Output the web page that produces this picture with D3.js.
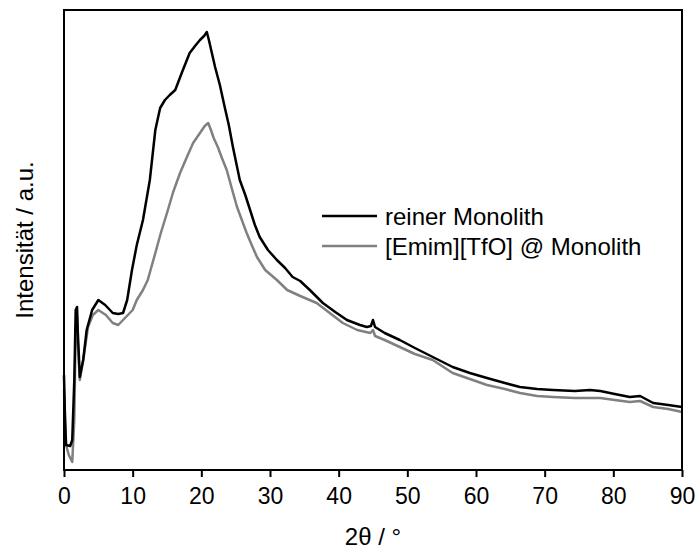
<!DOCTYPE html>
<html><head><meta charset="utf-8">
<script src="https://cdn.jsdelivr.net/npm/d3@7"></script>
<style>body{margin:0;background:#fff}svg{display:block}text{font-family:"Liberation Sans",Arial,sans-serif}</style>
</head><body><svg id="c" width="698" height="549"></svg>
<script>
const xTicks = [0,10,20,30,40,50,60,70,80,90];
const seriesNames = ["reiner Monolith","[Emim][TfO] @ Monolith"];
const seriesColors = ["#000000","#808080"];
const blackX = [0.0,0.15,0.3,0.9,1.2,1.5,1.7,1.9,2.0,2.3,2.8,3.3,4.1,5.0,6.0,7.1,7.9,8.6,9.2,9.9,10.6,11.5,12.5,13.3,14.0,14.7,15.4,16.2,17.2,18.3,19.2,19.8,20.4,20.8,21.1,21.6,22.0,22.7,23.4,24.0,24.6,25.6,26.4,27.1,27.8,28.5,29.7,31.0,32.2,33.3,34.4,35.8,37.7,39.5,41.2,43.1,44.1,44.7,45.0,45.3,46.7,48.9,51.1,53.7,56.6,59.1,61.6,64.2,66.4,68.9,71.2,74.4,76.6,78.1,80.2,82.4,83.9,85.8,88.0,90.0];
const blackY = [95,50,25,24,30,90,160,163,140,93,110,140,160,170,165,157,156,157,170,200,225,250,290,340,362,370,375,380,398,417,425,430,434,438,430,415,403,385,363,345,323,290,275,260,245,233,220,210,202,193,189,180,167,158,150,145,143,144,150,143,137,130,122,113,103,97,92,87,83,81,80,79,80,79,76,73,74,67,65,63];
const grayX = [0.0,0.3,0.7,1.2,1.5,1.7,1.9,2.0,2.3,2.9,3.5,4.2,5.0,6.1,7.1,7.9,8.6,9.3,10.0,10.6,11.5,12.2,13.3,14.1,15.0,15.9,16.9,17.9,18.8,19.8,20.5,21.0,21.4,21.8,22.4,23.0,23.7,24.5,25.2,25.9,26.6,27.4,28.1,29.3,31.0,32.5,34.4,36.8,38.7,40.6,42.7,44.6,45.0,45.3,46.7,48.9,51.1,53.7,56.6,59.1,61.6,64.2,66.4,68.9,71.2,74.4,78.1,80.2,82.4,83.9,85.8,88.0,90.0];
const grayY = [80,25,15,8,50,140,153,130,90,115,143,155,160,155,147,145,150,155,160,170,180,190,217,237,257,278,297,313,327,337,344,347,340,332,323,312,300,280,263,250,237,224,213,200,190,180,174,167,157,147,140,137,140,134,130,123,116,110,97,91,85,81,77,74,73,72,72,70,68,69,63,61,58];

const svg = d3.select("#c");
const m = {l:64, t:10, r:682, b:470};
const x = d3.scaleLinear().domain([0,90]).range([m.l, m.r]);
const y = d3.scaleLinear().domain([0,460]).range([m.b, m.t]);

const line = d3.line().x(d=>x(d[0])).y(d=>y(d[1]));
const series = [d3.zip(blackX, blackY), d3.zip(grayX, grayY)];
[1,0].forEach(i=>{
  svg.append("path").datum(series[i]).attr("d", line)
    .attr("fill","none").attr("stroke",seriesColors[i]).attr("stroke-width",2.5)
    .attr("stroke-linejoin","round");
});

svg.append("rect").attr("x",m.l).attr("y",m.t).attr("width",m.r-m.l).attr("height",m.b-m.t)
  .attr("fill","none").attr("stroke","#000").attr("stroke-width",2);

const xAxis = d3.axisBottom(x).tickValues(xTicks).tickSize(7).tickPadding(11).tickFormat(d3.format("d"));
const gx = svg.append("g").attr("transform",`translate(0,${m.b})`).call(xAxis);
gx.select(".domain").remove();
gx.selectAll("line").attr("stroke","#000").attr("stroke-width",2);
gx.selectAll("text").attr("font-size",23).attr("fill","#000")
  .attr("font-family","'Liberation Sans',Arial,sans-serif");

svg.append("text").attr("x",(m.l+m.r)/2).attr("y",545).attr("text-anchor","middle")
  .attr("font-size",24).text("2θ / °");
svg.append("text").attr("transform",`translate(33,${(m.t+m.b)/2}) rotate(-90)`)
  .attr("text-anchor","middle").attr("font-size",24).text("Intensität / a.u.");

const lg = svg.append("g");
seriesNames.forEach((n,i)=>{
  const yy = 216 + i*30;
  lg.append("line").attr("x1",322).attr("x2",377).attr("y1",yy).attr("y2",yy)
    .attr("stroke",seriesColors[i]).attr("stroke-width",2.5);
  lg.append("text").attr("x",385).attr("y",yy+9).attr("font-size",24).text(n);
});
</script></body></html>
